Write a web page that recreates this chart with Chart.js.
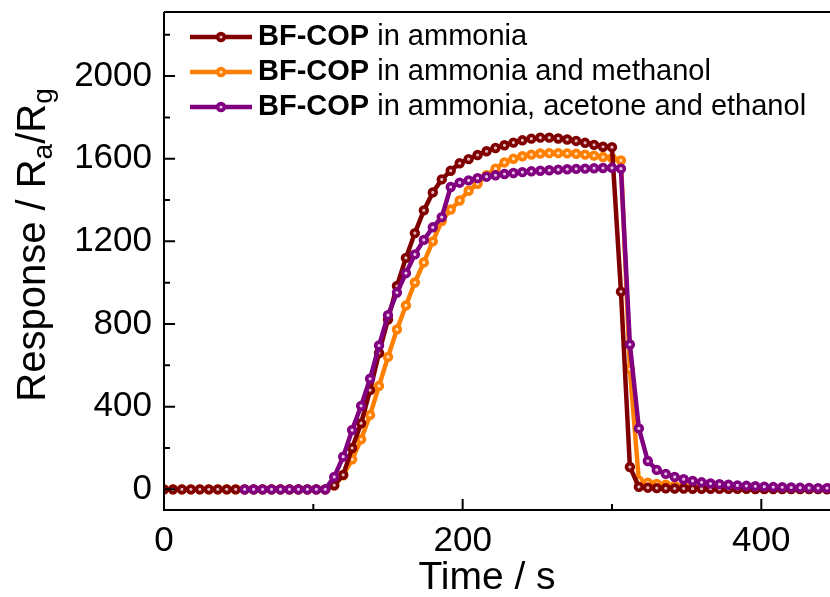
<!DOCTYPE html>
<html>
<head>
<meta charset="utf-8">
<script src="https://cdn.jsdelivr.net/npm/chart.js@4.4.0/dist/chart.umd.min.js"></script>
<style>
  html, body { margin: 0; padding: 0; background: #fff; overflow: hidden; }
  #wrap { width: 830px; height: 597px; }
</style>
</head>
<body>
<div id="wrap"><canvas id="chart"></canvas></div>
<script>
// sampling times (s)
const times = [0, 6, 12, 18, 24, 30, 36, 42, 48, 54, 60, 66, 72, 78, 84, 90, 96, 102, 108,
  114, 120, 126, 132, 138, 144, 150, 156, 162, 168, 174, 180, 186, 192, 198, 204, 210, 216,
  222, 228, 234, 240, 246, 252, 258, 264, 270, 276, 282, 288, 294, 300, 306, 312, 318, 324,
  330, 336, 342, 348, 354, 360, 366, 372, 378, 384, 390, 396, 402, 408, 414, 420, 426, 432,
  438, 444];

// BF-COP in ammonia
const ammonia = [0, 0, 0, 0, 0, 0, 0, 0, 0, 0, 0, 0, 0, 0, 0, 0, 0, 0, 0,
  20, 70, 200, 320, 480, 660, 822, 984, 1120, 1240, 1350, 1437, 1500, 1542, 1578, 1598, 1618,
  1636, 1652, 1665, 1678, 1689, 1697, 1702, 1702, 1698, 1693, 1686, 1677, 1667, 1658, 1656,
  957, 108, 12, 8, 6,
  5, 4, 4, 3, 3, 3, 2, 2, 2, 2, 1, 1, 1, 1, 1, 1, 1, 1, 0];

// BF-COP in ammonia and methanol
const ammoniaMethanol = [0, 0, 0, 0, 0, 0, 0, 0, 0, 0, 0, 0, 0, 0, 0, 0, 0, 0, 0,
  19, 68, 145, 242, 360, 501, 641, 774, 890, 1001, 1098, 1200, 1298, 1354, 1398, 1445, 1479,
  1520, 1552, 1582, 1600, 1612, 1620, 1625, 1627, 1627, 1626, 1624, 1620, 1615, 1608, 1603, 1592,
  582, 42, 32, 26,
  22, 18, 15, 13, 11, 10, 9, 8, 7, 6, 6, 5, 5, 4, 4, 4, 3, 3, 3];

// BF-COP in ammonia, acetone and ethanol (recorded from 54 s)
const ammoniaAcetoneEthanol = [null, null, null, null, null, null, null, null, null,
  0, 0, 0, 0, 0, 0, 0, 0, 0, 0,
  60, 158, 287, 404, 535, 696, 843, 952, 1046, 1137, 1207, 1268, 1317,
  1463, 1484, 1495, 1506, 1513, 1520, 1526, 1531, 1535, 1539, 1542, 1544, 1547, 1549, 1551,
  1552, 1554, 1555, 1556, 1552,
  701, 295, 137, 94, 75, 60, 49, 41, 34, 28, 25, 22, 19, 17, 15, 13, 11, 10, 9, 8, 7, 6, 6];

const xTicks = [0, 200, 400];
const xMinor = [100, 300];
const yTicks = [0, 400, 800, 1200, 1600, 2000];
const yMinor = [200, 600, 1000, 1400, 1800, 2200];

const RED = 'rgb(128,0,0)';
const ORANGE = 'rgb(255,128,0)';
const PURPLE = 'rgb(128,0,128)';
const FONT = '"Liberation Sans", Arial, sans-serif';

const toXY = vals => times.map((t, i) => ({ x: t, y: vals[i] }));

const series = (label, vals, color, light) => ({
  label,
  data: toXY(vals),
  borderColor: color,
  borderWidth: 4.5,
  pointRadius: 3.4,
  pointBorderWidth: 3.6,
  pointBorderColor: color,
  pointBackgroundColor: light,
  pointHoverRadius: 3.4,
  tension: 0,
  fill: false,
  spanGaps: false,
});

// legend rows drawn on canvas: bold name + plain rest
const legendRows = [
  { color: RED, light: '#e0b8c0', rest: ' in ammonia' },
  { color: ORANGE, light: '#ffe0c0', rest: ' in ammonia and methanol' },
  { color: PURPLE, light: '#e8c0e8', rest: ' in ammonia, acetone and ethanol' },
];

const framePlugin = {
  id: 'frame',
  afterDraw(chart) {
    const { ctx, chartArea: a, scales } = chart;
    ctx.save();
    ctx.strokeStyle = '#000';
    ctx.lineWidth = 2;
    ctx.beginPath();
    ctx.moveTo(a.left, a.top); ctx.lineTo(a.right, a.top);
    ctx.moveTo(a.left, a.top); ctx.lineTo(a.left, a.bottom);
    ctx.moveTo(a.left - 1, a.bottom); ctx.lineTo(a.right, a.bottom);
    // inward ticks
    xTicks.forEach(v => { const p = scales.x.getPixelForValue(v); ctx.moveTo(p, a.bottom); ctx.lineTo(p, a.bottom - 11); });
    xMinor.forEach(v => { const p = scales.x.getPixelForValue(v); ctx.moveTo(p, a.bottom); ctx.lineTo(p, a.bottom - 6); });
    yTicks.forEach(v => { const p = scales.y.getPixelForValue(v); ctx.moveTo(a.left, p); ctx.lineTo(a.left + 11, p); });
    yMinor.forEach(v => { const p = scales.y.getPixelForValue(v); ctx.moveTo(a.left, p); ctx.lineTo(a.left + 6, p); });
    ctx.stroke();

    // axis titles
    ctx.fillStyle = '#000';
    ctx.textBaseline = 'middle';
    ctx.textAlign = 'center';
    ctx.font = '39px ' + FONT;
    ctx.fillText('Time / s', 487, 578);

    // y title with subscripts
    const big = '40px ' + FONT, small = '28px ' + FONT;
    const parts = [['Response / R', big, 0], ['a', small, 10], ['/R', big, 0], ['g', small, 10]];
    let total = 0;
    parts.forEach(p => { ctx.font = p[1]; total += ctx.measureText(p[0]).width; });
    ctx.translate(34, 245);
    ctx.rotate(-Math.PI / 2);
    ctx.textAlign = 'left';
    let x = -total / 2;
    parts.forEach(p => { ctx.font = p[1]; ctx.fillText(p[0], x, p[2]); x += ctx.measureText(p[0]).width; });
    ctx.restore();

    // legend
    ctx.save();
    legendRows.forEach((r, i) => {
      const y = 37 + 35 * i;
      ctx.strokeStyle = r.color;
      ctx.lineWidth = 4.5;
      ctx.beginPath(); ctx.moveTo(190, y); ctx.lineTo(252, y); ctx.stroke();
      ctx.beginPath(); ctx.arc(221, y, 3.4, 0, Math.PI * 2);
      ctx.fillStyle = r.light; ctx.fill();
      ctx.lineWidth = 3.6; ctx.stroke();
      ctx.fillStyle = '#000';
      ctx.textBaseline = 'middle';
      ctx.textAlign = 'left';
      ctx.font = 'bold 29px ' + FONT;
      ctx.fillText('BF-COP', 258, y);
      const w = ctx.measureText('BF-COP').width;
      ctx.font = '29px ' + FONT;
      ctx.fillText(r.rest, 258 + w, y);
    });
    ctx.restore();
  }
};

new Chart(document.getElementById('chart'), {
  type: 'line',
  data: {
    datasets: [
      // first dataset is painted on top
      series('BF-COP in ammonia, acetone and ethanol', ammoniaAcetoneEthanol, PURPLE, '#e8c0e8'),
      series('BF-COP in ammonia', ammonia, RED, '#e0b8c0'),
      series('BF-COP in ammonia and methanol', ammoniaMethanol, ORANGE, '#ffe0c0'),
    ]
  },
  options: {
    responsive: true,
    maintainAspectRatio: false,
    animation: false,
    layout: { autoPadding: false, padding: { top: 12, right: 0, left: 0, bottom: 0 } },
    plugins: { legend: { display: false }, tooltip: { enabled: false } },
    scales: {
      x: {
        type: 'linear',
        min: 0,
        max: 446,
        afterBuildTicks: s => { s.ticks = xTicks.map(v => ({ value: v })); },
        afterFit: s => { s.height = 87; s.paddingLeft = 0; s.paddingRight = 0; },
        ticks: { color: '#000', font: { family: FONT, size: 35 }, padding: 10, maxRotation: 0, autoSkip: false,
          callback: v => String(v) },
        grid: { display: false, drawTicks: false },
        border: { display: false },
      },
      y: {
        min: -100,
        max: 2310,
        afterBuildTicks: s => { s.ticks = yTicks.map(v => ({ value: v })); },
        afterFit: s => { s.width = 164; s.paddingTop = 0; s.paddingBottom = 0; },
        ticks: { color: '#000', font: { family: FONT, size: 35 }, padding: 12, autoSkip: false,
          callback: v => String(v) },
        grid: { display: false, drawTicks: false },
        border: { display: false },
      }
    }
  },
  plugins: [framePlugin]
});
</script>
</body>
</html>
